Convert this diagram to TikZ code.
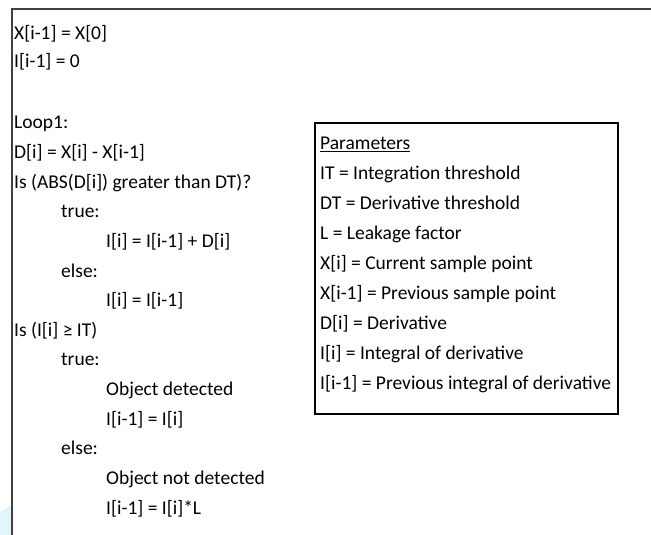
\documentclass[tikz,border=0pt]{standalone}
\usepackage{fontspec}
\setmainfont{Carlito}
\usetikzlibrary{positioning}

\begin{document}
\begin{tikzpicture}[
		x=1pt, y=-1pt,
		codeline/.style={anchor=base west, inner sep=0pt, font=\fontsize{19.5}{23}\selectfont},
		paramline/.style={codeline},
		framebar/.style={draw=black!75, line width=2.2pt},
		parambox/.style={draw=black, line width=1.3pt},
	]

		%Frame
		\useasboundingbox (0,0) rectangle (651,535);
		\fill[cyan!12] (0,512) -- (12,505) -- (12,535) -- (0,535) -- cycle;
		\draw[framebar] (12,535) -- (12,9) -- (651,9);

		%Code lines
		\node[codeline] (init1)  at (14,40)     {X[i-1] = X[0]};
		\node[codeline] (init2)  at (14,68)     {I[i-1] = 0};
		\node[codeline] (loop)   at (14,128.9)  {Loop1:};
		\node[codeline] (diff)   at (14,158.5)  {D[i] = X[i] - X[i-1]};
		\node[codeline] (test1)  at (14,188.1)  {Is (ABS(D[i]) greater than DT)?};
		\node[codeline] (true1)  at (61,217.75) {true:};
		\node[codeline] (sum)    at (106,247.4) {I[i] = I[i-1] + D[i]};
		\node[codeline] (else1)  at (61,277)    {else:};
		\node[codeline] (keep)   at (106,306.6) {I[i] = I[i-1]};
		\node[codeline] (test2)  at (14,336.25) {Is (I[i] ≥ IT)};
		\node[codeline] (true2)  at (61,365.9)  {true:};
		\node[codeline] (found)  at (106,395.5) {Object detected};
		\node[codeline] (reset)  at (106,425.1) {I[i-1] = I[i]};
		\node[codeline] (else2)  at (61,454.75) {else:};
		\node[codeline] (lost)   at (106,484.4) {Object not detected};
		\node[codeline] (leak)   at (106,514)   {I[i-1] = I[i]*L};

		%Parameters
		\draw[parambox] (315,123) rectangle (618,414);
		\node[paramline] (ptitle) at (320,149.3) {\underline{Parameters}};
		\node[paramline] (pIT)    at (320,179.3) {IT = Integration threshold};
		\node[paramline] (pDT)    at (320,209.3) {DT = Derivative threshold};
		\node[paramline] (pL)     at (320,239.3) {L = Leakage factor};
		\node[paramline] (pX)     at (320,269.3) {X[i] = Current sample point};
		\node[paramline] (pXp)    at (320,299.3) {X[i-1] = Previous sample point};
		\node[paramline] (pD)     at (320,329.3) {D[i] = Derivative};
		\node[paramline] (pI)     at (320,359.3) {I[i] = Integral of derivative};
		\node[paramline] (pIp)    at (320,389.3) {I[i-1] = Previous integral of derivative};

	\end{tikzpicture}
\end{document}
